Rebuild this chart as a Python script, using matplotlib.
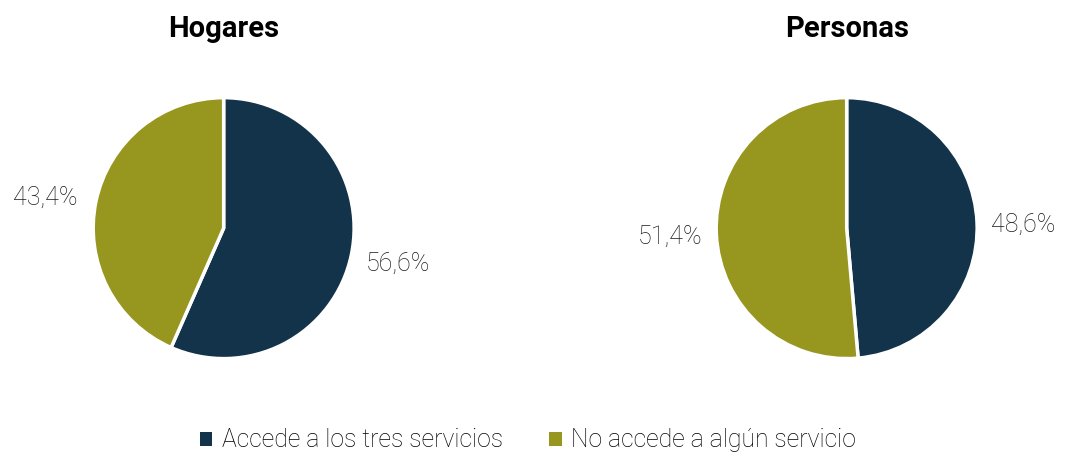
import matplotlib
matplotlib.use("Agg")
import matplotlib.pyplot as plt
from matplotlib.patches import Patch

# data
categories = ["Accede a los tres servicios", "No accede a algún servicio"]
hogares = [56.6, 43.4]
personas = [48.6, 51.4]
titles = ["Hogares", "Personas"]
colors = ["#12334a", "#97961f"]

fig = plt.figure(figsize=(10.65, 4.54), dpi=100)

def fmt(v):
    return f"{v:.1f}".replace(".", ",") + "%"

rects = [[0.0875, 0.21, 0.245, 0.575], [0.6725, 0.21, 0.245, 0.575]]
for rect, vals, title in zip(rects, [hogares, personas], titles):
    ax = fig.add_axes(rect)
    wedges, texts = ax.pie(vals, colors=colors, startangle=90, counterclock=False,
                           labels=[fmt(v) for v in vals], labeldistance=1.11,
                           wedgeprops=dict(edgecolor="white", linewidth=2.5),
                           textprops=dict(fontsize=18, family="Roboto", fontweight="light",
                                          color="#1a1a1a"))
    ax.set_xlim(-1, 1)
    ax.set_ylim(-1, 1)
    ax.set_aspect("equal")
    ax.set_title(title, fontsize=21, fontweight="bold", family="Roboto", pad=44)
    for t in texts:
        t.set_va("center_baseline")
    if title == "Hogares":
        # labels nudged a little as in the original
        x, y = texts[1].get_position()
        texts[1].set_position((x * 1.03, y * 1.1))
        x, y = texts[0].get_position()
        texts[0].set_position((x, y * 1.12))

handles = [Patch(facecolor=c, edgecolor="none") for c in colors]
fig.legend(handles, categories, loc="center", bbox_to_anchor=(0.496, 0.03),
           ncol=2, frameon=False, prop=dict(family="Roboto", weight="light", size=17.8),
           handlelength=0.5, handleheight=0.5, handletextpad=0.4, columnspacing=1.85)

fig.savefig("out.png", dpi=100)
